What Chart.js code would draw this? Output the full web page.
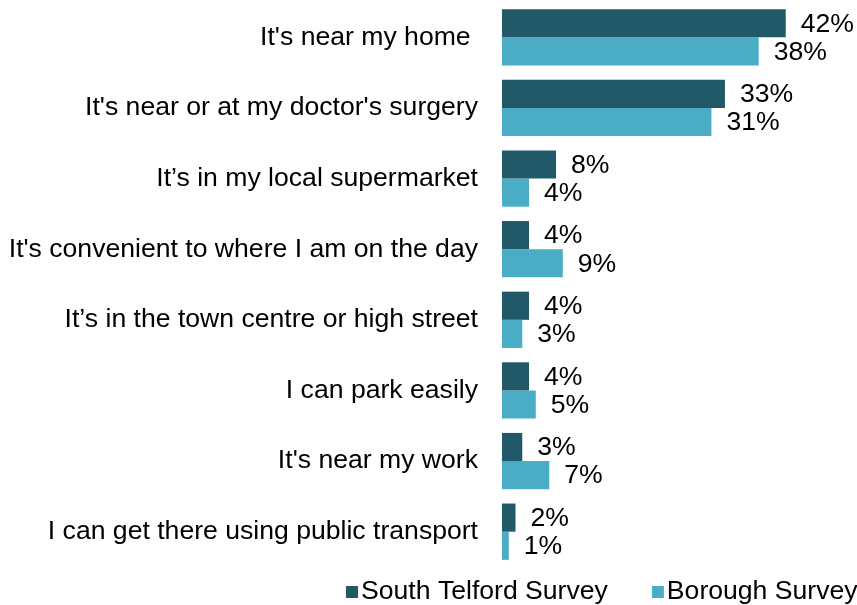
<!DOCTYPE html>
<html lang="en">
<head>
    <meta charset="UTF-8">
    <title>Reasons for choosing a pharmacy</title>
    <script src="https://cdn.jsdelivr.net/npm/chart.js"></script>
    <style>
        html, body { margin: 0; padding: 0; background: #fff; overflow: hidden; }
        #chartBox { width: 857px; height: 605px; }
    </style>
</head>
<body>
    <div id="chartBox"><canvas id="reasonsChart" width="857" height="605"></canvas></div>
    <script>
        // survey answers, one bar pair per reason
        const reasons = [
            "It's near my home ",
            "It's near or at my doctor's surgery",
            "It\u2019s in my local supermarket",
            "It's convenient to where I am on the day",
            "It\u2019s in the town centre or high street",
            "I can park easily",
            "It's near my work",
            "I can get there using public transport"
        ];
        const southTelford = [42, 33, 8, 4, 4, 4, 3, 2];
        const borough = [38, 31, 4, 9, 3, 5, 7, 1];
        const seriesNames = ['South Telford Survey', 'Borough Survey'];
        const seriesColours = ['#215968', '#4bacc6'];

        const FONT = '"Liberation Sans", Arial, sans-serif';
        const FONT_SIZE = 26.6;

        // percentage written just past the end of each bar
        const valueLabels = {
            id: 'valueLabels',
            afterDatasetsDraw(chart) {
                const ctx = chart.ctx;
                ctx.save();
                ctx.font = FONT_SIZE + 'px ' + FONT;
                ctx.fillStyle = '#000';
                ctx.textAlign = 'left';
                ctx.textBaseline = 'middle';
                chart.data.datasets.forEach((ds, i) => {
                    chart.getDatasetMeta(i).data.forEach((bar, j) => {
                        ctx.fillText(ds.data[j] + '%', bar.x + 15, bar.y + 1);
                    });
                });
                ctx.restore();
            }
        };

        // small square-key legend along the bottom
        const bottomLegend = {
            id: 'bottomLegend',
            afterDraw(chart) {
                const ctx = chart.ctx;
                const box = 12;
                const y = 592;
                let x = 346;
                ctx.save();
                ctx.font = FONT_SIZE + 'px ' + FONT;
                ctx.textBaseline = 'middle';
                ctx.textAlign = 'left';
                chart.data.datasets.forEach(ds => {
                    ctx.fillStyle = ds.backgroundColor;
                    ctx.fillRect(x, y - box / 2, box, box);
                    x += box + 3;
                    ctx.fillStyle = '#000';
                    ctx.fillText(ds.label, x, y);
                    x += ctx.measureText(ds.label).width + 44;
                });
                ctx.restore();
            }
        };

        new Chart(document.getElementById('reasonsChart'), {
            type: 'bar',
            data: {
                labels: reasons,
                datasets: [
                    { label: seriesNames[0], data: southTelford, backgroundColor: seriesColours[0] },
                    { label: seriesNames[1], data: borough, backgroundColor: seriesColours[1] }
                ]
            },
            options: {
                indexAxis: 'y',
                responsive: false,
                animation: false,
                layout: { padding: { top: 2, bottom: 38, right: 51, left: 0 } },
                datasets: {
                    bar: { categoryPercentage: 0.797, barPercentage: 1 }
                },
                scales: {
                    x: { display: false, min: 0, max: 45 },
                    y: {
                        grid: { display: false, drawTicks: false },
                        border: { display: false },
                        ticks: {
                            padding: 24,
                            color: '#000',
                            font: { family: FONT, size: FONT_SIZE }
                        },
                        afterFit(axis) {
                            // fixed gutter for the long labels, no extra room above/below
                            axis.width = 502;
                            axis.paddingTop = 0;
                            axis.paddingBottom = 0;
                        }
                    }
                },
                plugins: {
                    legend: { display: false },
                    tooltip: { enabled: false }
                }
            },
            plugins: [valueLabels, bottomLegend]
        });
    </script>
</body>
</html>
